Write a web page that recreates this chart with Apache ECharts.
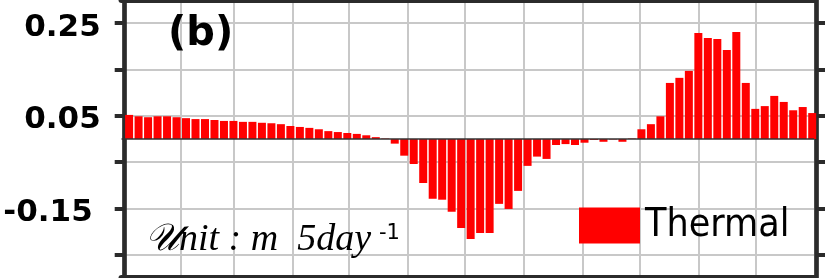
<!DOCTYPE html>
<html lang="en">
<head>
    <meta charset="UTF-8">
    <title>Thermal</title>
    <script src="https://cdn.jsdelivr.net/npm/echarts@6.0.0/dist/echarts.min.js"></script>
    <style>
        html, body { margin: 0; padding: 0; background: #fff; }
    </style>
</head>
<body>
    <div id="chart" style="width: 825px; height: 278px;"></div>
    <script>
        var myChart = echarts.init(document.getElementById('chart'));

        // pentad index 0..72, placed at day-of-year
        const pentadDays = [];
        for (let i = 0; i < 73; i++) pentadDays.push(5 * i + 4);

        // thermal term, m per pentad
        const thermal = [
            0.052, 0.049, 0.047, 0.049, 0.049, 0.047, 0.045, 0.043, 0.043, 0.041,
            0.039, 0.039, 0.037, 0.037, 0.035, 0.034, 0.032, 0.028, 0.026, 0.024,
            0.021, 0.017, 0.015, 0.013, 0.011, 0.008, 0.004, 0.001, -0.010, -0.036,
            -0.054, -0.095, -0.129, -0.131, -0.157, -0.192, -0.216, -0.203, -0.203, -0.140,
            -0.151, -0.112, -0.058, -0.038, -0.043, -0.013, -0.011, -0.013, -0.008, -0.002,
            -0.006, -0.001, -0.006, 0.001, 0.021, 0.032, 0.049, 0.121, 0.132, 0.147,
            0.229, 0.218, 0.216, 0.192, 0.231, 0.121, 0.065, 0.071, 0.093, 0.080,
            0.062, 0.069, 0.056
        ];

        // month boundaries (day of year) for the vertical grid
        const monthEdges = [31, 59, 90, 120, 151, 181, 212, 243, 273, 304, 334];
        // y ticks and labels
        const yTicks = [-0.25, -0.15, -0.05, 0.05, 0.15, 0.25];
        const yLabels = [-0.15, 0.05, 0.25];

        const frame = '#2b2b2b';
        const gridGray = '#c8c8c8';

        const option = {
            animation: false,
            title: [
                {
                    text: '(b)',
                    left: 168, top: 15,
                    padding: 0,
                    textStyle: { fontFamily: 'DejaVu Sans', fontWeight: 'bold', fontSize: 40, color: '#000' }
                },
                {
                    text: '\u{1D4B0}nit : m  5day',
                    left: 145, top: 221,
                    padding: 0,
                    textStyle: { fontFamily: 'Liberation Serif', fontStyle: 'italic', fontWeight: 'normal', fontSize: 38, color: '#000' }
                },
                {
                    text: '-1',
                    left: 379, top: 223,
                    padding: 0,
                    textStyle: { fontFamily: 'DejaVu Sans', fontWeight: 'normal', fontSize: 21, color: '#000' }
                }
            ],
            legend: {
                data: ['Thermal'],
                left: 579, top: 206,
                padding: 0,
                itemWidth: 61, itemHeight: 36,
                icon: 'rect',
                textStyle: { fontFamily: 'DejaVu Sans Condensed', fontSize: 39, color: '#000' }
            },
            grid: {
                left: 121.5, right: 10.9, top: 0, bottom: 0,
                outerBoundsMode: 'none'
            },
            xAxis: [
                {
                    type: 'value',
                    position: 'bottom',
                    min: 0, max: 365,
                    axisLine: { onZero: false, lineStyle: { color: frame, width: 6 } },
                    axisTick: { show: false, customValues: monthEdges },
                    axisLabel: { show: false },
                    splitLine: { show: true, lineStyle: { color: gridGray, width: 2 } }
                },
                {
                    type: 'value',
                    position: 'top',
                    min: 0, max: 365,
                    axisLine: { onZero: false, lineStyle: { color: frame, width: 6 } },
                    axisTick: { show: false },
                    axisLabel: { show: false },
                    splitLine: { show: false }
                }
            ],
            yAxis: [
                {
                    type: 'value',
                    position: 'left',
                    offset: -3.2,
                    min: -0.3, max: 0.3,
                    axisLine: { show: true, onZero: false, lineStyle: { color: frame, width: 4.7 } },
                    axisTick: { show: true, length: 10, customValues: yTicks, lineStyle: { color: frame, width: 4 } },
                    axisLabel: {
                        customValues: yLabels,
                        margin: 24,
                        padding: [9, 0, 0, 0],
                        fontFamily: 'DejaVu Sans', fontWeight: 'bold', fontSize: 31, color: '#000',
                        formatter: v => v < 0 ? '{neg|' + v.toFixed(2) + '}' : v.toFixed(2),
                        rich: {
                            neg: { fontFamily: 'DejaVu Sans', fontWeight: 'bold', fontSize: 31, color: '#000', padding: [0, 8, 0, 0] }
                        }
                    },
                    splitLine: { show: true, lineStyle: { color: gridGray, width: 2 } }
                },
                {
                    type: 'value',
                    position: 'right',
                    offset: 2.5,
                    min: -0.3, max: 0.3,
                    axisLine: { show: true, onZero: false, lineStyle: { color: frame, width: 4.7 } },
                    axisTick: { show: true, length: 10, customValues: yTicks, lineStyle: { color: frame, width: 4 } },
                    axisLabel: { show: false },
                    splitLine: { show: false }
                }
            ],
            series: [
                {
                    name: 'Thermal',
                    type: 'bar',
                    barWidth: 8,
                    itemStyle: { color: '#ff0000' },
                    data: pentadDays.map((d, i) => [d, thermal[i]]),
                    markLine: {
                        silent: true,
                        symbol: 'none',
                        label: { show: false },
                        lineStyle: { color: '#333', width: 1.5, type: 'solid' },
                        data: [{ yAxis: 0 }]
                    }
                }
            ]
        };

        myChart.setOption(option);
    </script>
</body>
</html>
